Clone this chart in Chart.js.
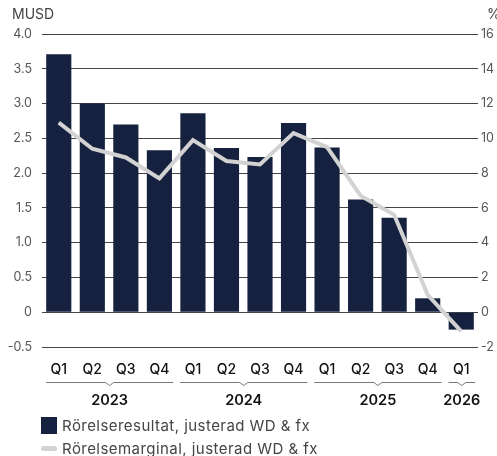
<!DOCTYPE html>
<html>
<head>
<meta charset="utf-8">
<script src="https://cdn.jsdelivr.net/npm/chart.js@4"></script>
<style>
  html, body { margin: 0; padding: 0; background: #fff; }
  #wrap { position: relative; width: 497px; height: 456px; }
  .leg { position: absolute; left: 41px; font-family: Inter, "Open Sans", sans-serif; font-size: 15px; letter-spacing: 0.45px; color: #444; white-space: nowrap; }
  .leg .mark { display: inline-block; vertical-align: middle; margin-right: 5px; }
</style>
</head>
<body>
<div id="wrap">
  <canvas id="chart"></canvas>
  <div class="leg" style="top:415px;"><span class="mark" style="width:16px;height:17px;background:#15213f;"></span><span style="vertical-align:middle;">Rörelseresultat, justerad WD &amp; fx</span></div>
  <div class="leg" style="top:438px;"><span class="mark" style="width:16px;height:5px;border-radius:3px;background:#d2d2d2;"></span><span style="vertical-align:middle;">Rörelsemarginal, justerad WD &amp; fx</span></div>
</div>
<script>
const quarters = ['Q1', 'Q2', 'Q3', 'Q4', 'Q1', 'Q2', 'Q3', 'Q4', 'Q1', 'Q2', 'Q3', 'Q4', 'Q1'];
const years = ['2023', '2024', '2025', '2026'];
const yearSpans = [4, 4, 4, 1];

// Rörelseresultat (MUSD), left axis
const resultat = [3.71, 3.0, 2.70, 2.33, 2.86, 2.36, 2.23, 2.72, 2.37, 1.62, 1.36, 0.2, -0.25];
// Rörelsemarginal (%), right axis
const marginal = [10.9, 9.4, 8.9, 7.7, 9.9, 8.7, 8.5, 10.3, 9.5, 6.7, 5.6, 1.0, -1.1];

const leftTicks = ['-0.5', '0', '0.5', '1.0', '1.5', '2.0', '2.5', '3.0', '3.5', '4.0'];
const rightTicks = ['-2', '0', '2', '4', '6', '8', '10', '12', '14', '16'];

const tickFont = { family: 'Inter, "Open Sans", sans-serif', size: 12.5 };

const extras = {
  id: 'extras',
  afterDraw(chart) {
    const ctx = chart.ctx;
    const x = chart.scales.x;
    ctx.save();
    // unit labels
    ctx.fillStyle = '#444';
    ctx.font = '14px Inter, "Open Sans", sans-serif';
    ctx.textBaseline = 'middle';
    ctx.textAlign = 'left';
    ctx.fillText('MUSD', 12, 15);
    ctx.fillText('%', 487, 15);

    // year brackets
    const half = (x.getPixelForValue(1) - x.getPixelForValue(0)) / 2;
    let start = 0;
    const yLine = 382;
    yearSpans.forEach((n, i) => {
      const x0 = x.getPixelForValue(start) - half + 4;
      const x1 = x.getPixelForValue(start + n - 1) + half - 3;
      const mid = (x0 + x1) / 2;
      ctx.strokeStyle = '#777';
      ctx.lineWidth = 1;
      ctx.beginPath();
      ctx.moveTo(x0, yLine + 0.5);
      ctx.lineTo(mid - 4, yLine + 0.5);
      ctx.lineTo(mid, yLine + 3.5);
      ctx.lineTo(mid + 4, yLine + 0.5);
      ctx.lineTo(x1, yLine + 0.5);
      ctx.stroke();
      ctx.fillStyle = '#111';
      ctx.font = '600 14.5px Inter, "Open Sans", sans-serif';
      ctx.textAlign = 'center';
      ctx.fillText(years[i], mid, 401);
      start += n;
    });
    ctx.restore();
  }
};

new Chart(document.getElementById('chart').getContext('2d'), {
  type: 'bar',
  data: {
    labels: quarters,
    datasets: [{
      type: 'line',
      label: 'Rörelsemarginal, justerad WD & fx',
      data: marginal,
      yAxisID: 'y2',
      borderColor: '#d2d2d2',
      borderWidth: 4,
      pointRadius: 0,
      tension: 0,
      order: 0
    }, {
      label: 'Rörelseresultat, justerad WD & fx',
      data: resultat,
      yAxisID: 'y',
      backgroundColor: '#15213f',
      categoryPercentage: 1,
      barPercentage: 0.75,
      order: 1
    }]
  },
  options: {
    responsive: true,
    maintainAspectRatio: false,
    animation: false,
    layout: { padding: { top: 34, bottom: 46, left: 0, right: 0 } },
    plugins: {
      legend: { display: false },
      tooltip: { enabled: false }
    },
    scales: {
      x: {
        grid: { display: false, drawTicks: false },
        border: { display: false },
        ticks: { color: '#111', font: { family: 'Inter, "Open Sans", sans-serif', size: 14, weight: '500' }, padding: 14, maxRotation: 0 },
        afterFit(s) { s.height = 63; }
      },
      y: {
        position: 'left',
        min: -0.5,
        max: 4.0,
        ticks: {
          stepSize: 0.5,
          color: '#555',
          font: tickFont,
          padding: 10,
          callback: (v, i) => leftTicks[i]
        },
        grid: { color: '#444', lineWidth: 1, drawTicks: false },
        border: { display: false },
        afterFit(s) { s.width = 42; }
      },
      y2: {
        position: 'right',
        min: -2,
        max: 16,
        ticks: {
          stepSize: 2,
          color: '#555',
          font: tickFont,
          padding: 3,
          callback: (v, i) => rightTicks[i]
        },
        grid: { display: false, drawTicks: false },
        border: { display: false },
        afterFit(s) { s.width = 19; }
      }
    }
  },
  plugins: [extras]
});
</script>
</body>
</html>
